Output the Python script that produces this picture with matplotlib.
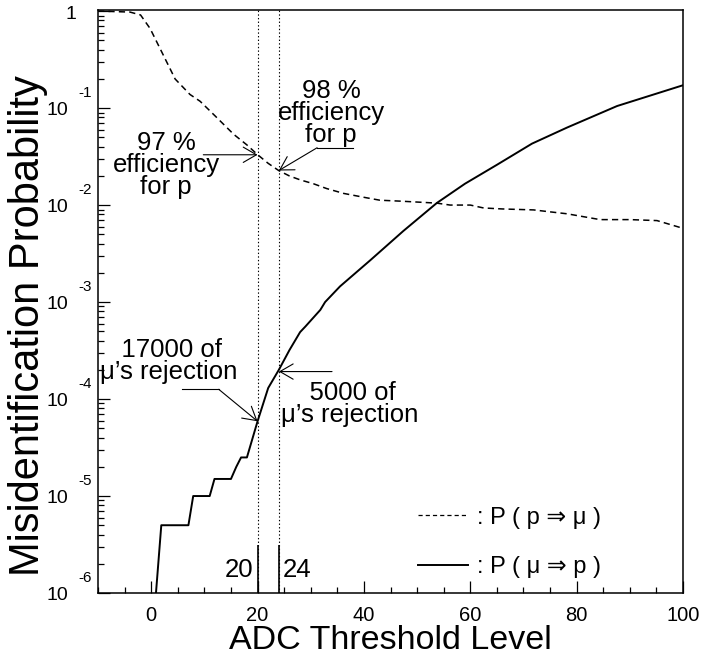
import numpy as np
import matplotlib
matplotlib.use("Agg")
import matplotlib.pyplot as plt
from matplotlib.ticker import MultipleLocator, LogLocator, NullFormatter
from matplotlib.lines import Line2D

plt.rcParams['font.family'] = ['Liberation Sans', 'DejaVu Sans']
plt.rcParams['lines.scale_dashes'] = False

# P(p => mu): proton misidentified as muon
p_mu_x = [-10, -4, -2, -0.2, 1.7, 3.6, 4.5, 7.3, 9.2, 12, 15.5, 18, 20, 22, 24,
          26, 28, 30.5, 33, 36.2, 40, 43, 47, 53.7, 56.2, 60, 62.5, 66, 71.9,
          75, 78.2, 84.4, 90, 95.1, 100]
p_mu_log = [0, -0.01, -0.04, -0.18, -0.39, -0.6, -0.7, -0.86, -0.93, -1.08, -1.27,
            -1.38, -1.48, -1.57, -1.645, -1.7, -1.74, -1.78, -1.83, -1.88, -1.92,
            -1.95, -1.96, -1.98, -2.0, -2.0, -2.03, -2.04, -2.05, -2.07, -2.09,
            -2.15, -2.15, -2.16, -2.24]

# P(mu => p): muon misidentified as proton
mu_p_x = [0.9, 1.9, 7.0, 7.9, 11.0, 11.9, 15.0, 16.0, 16.9, 18.0, 20.0, 22.0, 24.0,
          26.0, 28.0, 29.0, 31.8, 32.7, 35.5, 41.2, 47.4, 53.7, 59.0, 65.0, 71.6,
          78.2, 87.6, 100]
mu_p_y = [1e-6, 5e-6, 5e-6, 1e-5, 1e-5, 1.5e-5, 1.5e-5, 2e-5, 2.5e-5, 2.5e-5, 5.9e-5,
          1.3e-4, 2.0e-4, 3.2e-4, 4.9e-4, 5.6e-4, 8.3e-4, 1e-3, 1.45e-3, 2.7e-3,
          5.4e-3, 1.05e-2, 1.66e-2, 2.6e-2, 4.3e-2, 6.3e-2, 1.05e-1, 1.72e-1]

cuts = [20, 24]
decades = [-1, -2, -3, -4, -5, -6]

fig = plt.figure(figsize=(7.02, 6.56), dpi=100)
ax = fig.add_axes([0.1396, 0.096, 0.8334, 0.889])

ax.plot(p_mu_x, 10 ** np.array(p_mu_log), color='black', lw=1.1, dashes=(4.5, 3))
ax.plot(mu_p_x, mu_p_y, color='black', lw=1.4)

for c in cuts:
    ax.axvline(c, color='black', lw=0.8, ls=(0, (1, 1.6)))
    ax.vlines(c, 1e-6, 3.1e-6, color='black', lw=1.2)

ax.set_xlim(-10, 100)
ax.set_yscale('log')
ax.set_ylim(1e-6, 1.03)

for s in ax.spines.values():
    s.set_linewidth(1.1)

ax.xaxis.set_major_locator(MultipleLocator(20))
ax.xaxis.set_minor_locator(MultipleLocator(5))
ax.yaxis.set_major_locator(LogLocator(base=10))
ax.yaxis.set_minor_locator(LogLocator(base=10, subs=np.arange(2, 10)))
ax.yaxis.set_minor_formatter(NullFormatter())
ax.tick_params(which='both', direction='in', top=False, right=False, width=0.9)
ax.tick_params(which='major', length=8.5)
ax.tick_params(which='minor', length=4.5)
ax.tick_params(axis='x', labelsize=14.5, pad=9.5)
ax.tick_params(axis='y', labelleft=False)

# ROOT style y labels: "10" with exponent above right
yax = ('axes fraction', 'data')
for e in decades:
    ax.annotate('10', xy=(0, 10.0 ** e), xycoords=yax, xytext=(-21.6, -1.5),
                textcoords='offset points', ha='right', va='center', fontsize=14)
    ax.annotate(str(e), xy=(0, 10.0 ** e), xycoords=yax, xytext=(-14.4, 10.8),
                textcoords='offset points', ha='left', va='center', fontsize=11)
ax.annotate('1', xy=(0, 1.0), xycoords=yax, xytext=(-15.5, -2.5),
            textcoords='offset points', ha='right', va='center', fontsize=14)

ax.set_xlabel('ADC Threshold Level', fontsize=24.5, va='center')
ax.xaxis.set_label_coords(0.5, -0.081)
ax.set_ylabel('Misidentification Probability', fontsize=30, va='center')
ax.yaxis.set_label_coords(-0.12, 0.458)

# annotations
fs = 18.5
arrow = dict(arrowstyle='->,head_length=0.95,head_width=0.55', lw=0.8,
             color='black', shrinkA=0, shrinkB=0, mutation_scale=10)

ax.text(2.8, 0.0258, '97 %\nefficiency\nfor p', ha='center', va='center',
        fontsize=fs, linespacing=0.9)
ax.annotate('', xy=(20, 0.033), xytext=(9.8, 0.033), arrowprops=arrow)

ax.text(33.8, 0.089, '98 %\nefficiency\nfor p', ha='center', va='center',
        fontsize=fs, linespacing=0.9)
ax.plot([38, 31.2], [0.039, 0.039], color='black', lw=0.8)
ax.annotate('', xy=(24, 0.0227), xytext=(31.2, 0.039), arrowprops=arrow)

ax.text(-9.6, 2.47e-4, '   17000 of\n\u03bc\u2019s rejection', ha='left', va='center',
        fontsize=fs, linespacing=0.9, multialignment='left')
ax.plot([5.8, 12.7], [1.26e-4, 1.26e-4], color='black', lw=0.8)
ax.annotate('', xy=(20, 5.9e-5), xytext=(12.7, 1.26e-4), arrowprops=arrow)

ax.text(24.4, 8.85e-5, '    5000 of\n\u03bc\u2019s rejection', ha='left', va='center',
        fontsize=fs, linespacing=0.9, multialignment='left')
ax.annotate('', xy=(24, 1.92e-4), xytext=(34, 1.92e-4), arrowprops=arrow)

ax.text(19.3, 1.73e-6, '20', ha='right', va='center', fontsize=fs)
ax.text(24.8, 1.73e-6, '24', ha='left', va='center', fontsize=fs)

handles = [Line2D([], [], color='black', lw=0.9, dashes=(3, 2.2)),
           Line2D([], [], color='black', lw=1.4)]
labels = [': P ( p \u21d2 \u03bc )', ': P ( \u03bc \u21d2 p )']
ax.legend(handles, labels, loc='upper left', bbox_to_anchor=(0.547, 0.148),
          frameon=False, fontsize=17, handlelength=2.1, handletextpad=0.4,
          labelspacing=1.15, borderpad=0, borderaxespad=0)

fig.savefig('out.png', dpi=100)
